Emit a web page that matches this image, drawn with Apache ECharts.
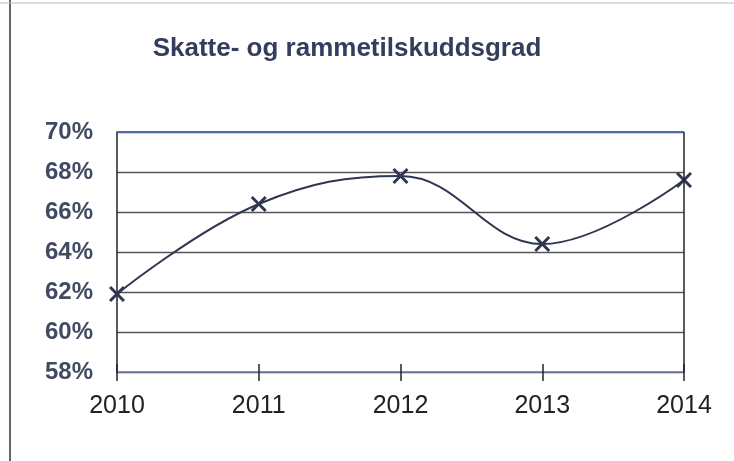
<!DOCTYPE html>
<html><head><meta charset="utf-8">
<script src="https://cdn.jsdelivr.net/npm/echarts@6/dist/echarts.min.js"></script>
<style>html,body{margin:0;padding:0;background:#fff}#c{width:734px;height:461px}</style>
</head><body><div id="c"></div>
<script>
const categories = ['2010', '2011', '2012', '2013', '2014'];
const values = [61.9, 66.4, 67.8, 64.4, 67.6];
const yTicks = [58, 60, 62, 64, 66, 68, 70];

const chart = echarts.init(document.getElementById('c'));
chart.setOption({
  animation: false,
  backgroundColor: '#fff',
  title: {
    text: 'Skatte- og rammetilskuddsgrad',
    left: 342, top: 31, textAlign: 'center',
    textStyle: { fontFamily: 'Liberation Sans, Arial', fontSize: 26, fontWeight: 'bold', color: '#353d5c' }
  },
  graphic: [
    { type: 'line', shape: { x1: 10, y1: 0, x2: 10, y2: 461 }, style: { stroke: '#333', lineWidth: 1.5 } },
    { type: 'line', shape: { x1: 0, y1: 3, x2: 734, y2: 3 }, style: { stroke: '#b8bcc8', lineWidth: 1 } }
  ],
  grid: { left: 117, right: 50, top: 132, bottom: 89 },
  xAxis: [{
    type: 'category', data: categories, boundaryGap: false,
    axisLine: { lineStyle: { color: '#6c7fa8', width: 1.5 } },
    axisTick: { show: true, alignWithLabel: true, length: 9, inside: false, lineStyle: { color: '#222', width: 1.5 } },
    axisLabel: { fontFamily: 'Liberation Sans, Arial', fontSize: 25, color: '#222', margin: 22 },
    splitLine: { show: false }
  }, {
    type: 'category', data: categories, boundaryGap: false, position: 'bottom',
    axisLine: { show: false },
    axisTick: { show: true, alignWithLabel: true, length: 8, inside: true, lineStyle: { color: '#222', width: 1.5 } },
    axisLabel: { show: false },
    splitLine: { show: false }
  }],
  yAxis: {
    type: 'value', min: 58, max: 70, interval: 2,
    axisLine: { show: true, lineStyle: { color: '#222', width: 1.5 } },
    axisTick: { show: false },
    axisLabel: { fontFamily: 'Liberation Sans, Arial', fontSize: 24, fontWeight: 'bold', color: '#414a63', margin: 24,
      formatter: v => yTicks.includes(v) ? v + '%' : '' },
    splitLine: { show: true, lineStyle: { color: '#555', width: 1.3 } }
  },
  series: [
    {
      type: 'line', data: values, smooth: 0.4,
      lineStyle: { color: '#2e3650', width: 2 },
      symbol: 'path://M0,1.3L1.3,0L5,3.7L8.7,0L10,1.3L6.3,5L10,8.7L8.7,10L5,6.3L1.3,10L0,8.7L3.7,5Z',
      symbolSize: 16,
      itemStyle: { color: '#2e3650' },
      markLine: {
        silent: true, symbol: 'none', label: { show: false },
        lineStyle: { color: '#5068a8', width: 2, type: 'solid' },
        data: [{ yAxis: 70 }]
      }
    },
    {
      type: 'line', data: categories.map(() => null), silent: true,
      markLine: {
        silent: true, symbol: 'none', label: { show: false },
        lineStyle: { color: '#222', width: 1.5, type: 'solid' },
        data: [[{ xAxis: '2014', yAxis: 58 }, { xAxis: '2014', yAxis: 70 }]]
      }
    }
  ]
});
</script></body></html>
